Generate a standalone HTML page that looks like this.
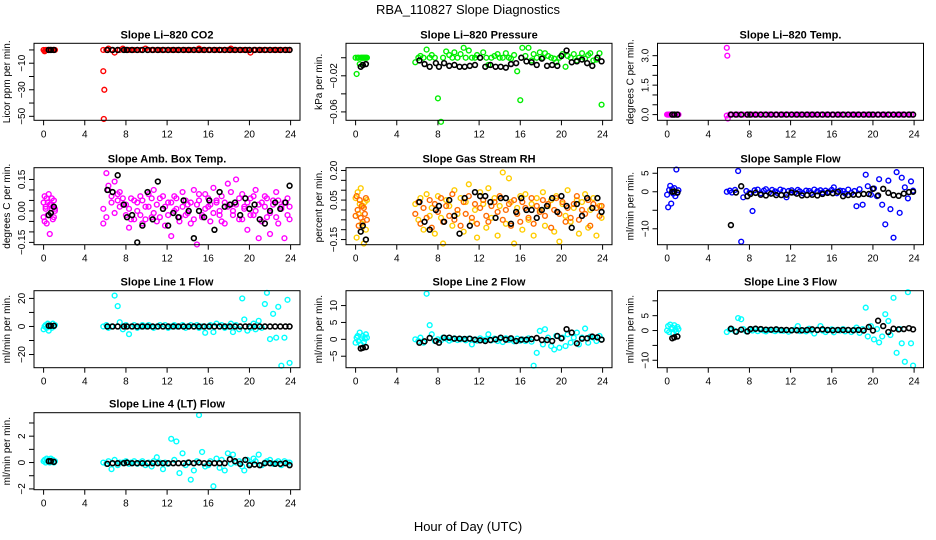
<!DOCTYPE html>
<html><head><meta charset="utf-8">
<style>
html,body{margin:0;padding:0;background:#fff;}
svg{display:block;font-family:"Liberation Sans",Arial,sans-serif;}
</style></head>
<body>
<svg id="chart" width="936" height="540" viewBox="0 0 936 540" xmlns="http://www.w3.org/2000/svg">
<rect x="0" y="0" width="936" height="540" fill="#fff"/>
<text x="468" y="14" font-size="13" text-anchor="middle">RBA_110827  Slope Diagnostics</text>
<text x="468" y="531" font-size="13" text-anchor="middle">Hour of Day (UTC)</text>
</svg>
<script>
// shared time arrays (hours)
const colorTimes = [0.0,0.1,0.2,0.3,0.4,0.5,0.6,0.7,0.8,0.9,1.0,1.1,
5.8,6.1,6.3,6.6,6.9,7.2,7.4,7.7,8.0,8.3,8.5,8.8,9.1,9.4,9.6,9.9,10.2,10.5,10.7,11.0,11.3,11.6,11.8,12.1,12.4,12.7,12.9,13.2,13.5,13.8,14.0,14.3,14.6,14.9,15.1,15.4,15.7,16.0,16.2,16.5,16.8,17.1,17.3,17.6,17.9,18.2,18.4,18.7,19.0,19.3,19.5,19.8,20.1,20.4,20.6,20.9,21.2,21.5,21.7,22.0,22.3,22.6,22.8,23.1,23.4,23.7,23.9];
const blackTimes = [0.5,0.7,1.0,6.2,6.7,7.2,7.8,8.1,8.6,9.1,9.6,10.1,10.6,11.1,11.6,12.1,12.6,13.1,13.6,14.1,14.6,15.1,15.6,16.1,16.6,17.1,17.6,18.1,18.6,19.1,19.6,20.0,20.5,21.0,21.5,22.0,22.5,23.0,23.5,23.9];
const xTicks = [0,4,8,12,16,20,24];

// Panel 1: CO2
const co2Color = [0,-1,0,0,0,0,0,0,0,0,0,0,
0,0,1,0,-2,0,0,1,0,0,0,0,0,0,0,1,0,0,0,0,0,0,0,0,0,0,0,0,0,0,0,0,0,0,1,0,0,0,0,0,0,0,0,0,0,1,0,0,0,0,0,0,-2,0,0,0,0,0,0,0,0,0,0,0,0,0,0];
const co2OutT = [5.8,5.9,5.85];
const co2OutV = [-16,-30,-52];
const co2Black = [0,0,0,0,0,0,0,0,0,0,0,0,0,0,0,0,0,0,0,0,0,0,0,0,0,0,0,0,0,0,0,0,0,0,0,0,0,0,0,0];
const co2Ticks = [0,-10,-20,-30,-40,-50];
const co2Labels = ["","-10","","-30","","-50"];

// Panel 2: Pressure
const presColor = [0,-0.018,0,0,-0.007,0,0,0,0,0,0,0,
-0.005,0,0.002,0,0.009,0,0.003,0,-0.045,-0.071,0,0.007,0.003,0,0.006,0,0.004,0.011,0,0.008,0,0,0.003,0,0.006,0,-0.008,0,0.002,0.004,0,0,0.005,0,-0.001,0.003,-0.015,-0.047,0.011,0.002,0.011,-0.003,0.004,0,0.006,0,0.005,0.002,0,-0.001,-0.005,0,0.004,-0.01,0.002,0,0.004,-0.003,0,0.005,-0.001,0.003,0.005,-0.003,-0.002,0.005,-0.052];
const presBlack = [-0.01,-0.008,-0.007,-0.003,-0.007,-0.01,-0.006,-0.01,-0.006,-0.009,-0.008,-0.01,-0.01,-0.009,-0.008,0,-0.01,-0.008,-0.01,-0.01,-0.011,-0.007,-0.006,0,-0.004,-0.005,-0.008,-0.001,-0.009,-0.008,-0.009,0.002,0.008,-0.005,-0.004,-0.002,-0.006,-0.009,0,-0.004];
const presTicks = [0,-0.02,-0.04,-0.06];
const presLabels = ["","-0.02","","-0.06"];

// Panel 3: Li-820 Temp
const tempColor = [0,0,0,0,0,0,0,0,0,0,0,0,
-0.05,0,0,0,0,0,0,0,0,0,0,0,0,0,0,0,0,0,0,0,0,0,0,0,0,0,0,0,0,0,0,0,0,0,0,0,0,0,0,0,0,0,0,0,0,0,0,0,0,0,0,0,0,0,0,0,0,0,0,0,0,0,0,0,0,0,0];
const tempOutT = [5.8,5.85,5.9];
const tempOutV = [3.4,3.0,-0.2];
const tempBlack = [0,0,0,0,0,0,0,0,0,0,0,0,0,0,0,0,0,0,0,0,0,0,0,0,0,0,0,0,0,0,0,0,0,0,0,0,0,0,0,0];
const tempTicks = [0,0.5,1,1.5,2,2.5,3];
const tempLabels = ["0.0","","","1.5","","","3.0"];

// Panel 4: Amb Box Temp
const ambColorA = [0.04,-0.05,0.02,0.06,-0.02,0.08,-0.11,0.03,0.01,-0.04,0.05,0.00,
-0.06,0.18,0.10,0.07,0.14,0.05,0.09,0.03,-0.02,-0.08,0.06,-0.04,0.04,0.07,-0.06,0.02,0.08,-0.03,0.10,-0.05,0.06,0.01,-0.07,0.04,-0.12,0.07,0.01,-0.05,0.09,-0.02,0.03,-0.06,0.10,-0.16,0.05,-0.03,0.08,0.02,-0.05,0.11,0.04,-0.02,0.07,-0.06,0.13,0.03,0.00,0.15,-0.04,0.08,0.02,-0.09,0.06,-0.02,0.10,-0.13,0.04,0.07,-0.03,-0.11,0.05,0.09,-0.06,0.02,-0.13,0.06,-0.04];
const ambColorB = [-0.03,0.07,0.01,-0.06,0.04,-0.02,0.03,-0.01,0.06,0.02,-0.03,0.01,
0.01,-0.03,0.12,0.04,-0.01,0.08,0.02,0.06,0.03,0.01,-0.04,0.05,0.00,-0.02,0.05,-0.04,0.02,0.06,-0.01,0.03,-0.03,0.07,0.02,-0.02,0.04,0.00,0.06,-0.03,0.02,0.05,-0.01,0.04,-0.04,0.03,0.08,-0.02,0.01,0.06,0.03,-0.01,0.05,0.00,-0.05,0.04,0.02,0.09,-0.02,0.03,0.06,-0.04,0.01,0.04,-0.02,0.07,0.00,0.03,-0.05,0.02,0.06,-0.01,0.03,-0.03,0.05,0.01,0.04,-0.02,0.02];
const ambBlack = [-0.02,-0.01,0.02,0.10,0.09,0.17,0.03,-0.03,-0.02,-0.15,-0.07,0.09,-0.04,0.14,0.01,-0.07,-0.01,-0.03,0.05,0.00,-0.13,0.00,-0.03,0.05,-0.09,0.09,0.02,0.03,0.04,-0.02,0.06,0.01,0.03,-0.04,-0.06,0.00,0.04,0.01,0.04,0.12];
const ambTicks = [0.15,0.10,0.05,0,-0.05,-0.10,-0.15];
const ambLabels = ["0.15","","","0.00","","","-0.15"];

// Panel 5: Gas Stream RH
const rhColorA = [0.06,-0.14,0.09,-0.02,0.03,0.11,-0.07,0.02,-0.17,0.04,-0.10,0.05,
0.03,-0.05,0.06,-0.10,0.08,-0.03,0.01,-0.12,0.07,-0.04,-0.17,0.05,0.02,-0.08,0.10,-0.02,0.06,-0.11,0.04,0.13,-0.06,0.00,-0.14,0.09,0.03,-0.09,0.11,-0.04,0.06,-0.13,0.02,0.19,-0.07,0.16,0.04,-0.17,0.01,0.07,-0.10,0.08,-0.05,0.03,-0.13,0.06,0.00,0.09,-0.08,0.02,0.05,-0.11,0.07,-0.16,0.03,-0.03,0.10,-0.06,0.01,0.05,-0.12,0.04,0.08,-0.09,0.00,0.06,-0.13,0.02,-0.04];
const rhColorB = [-0.03,0.07,0.00,-0.08,0.05,-0.04,0.02,-0.06,0.01,-0.02,0.06,-0.05,
-0.02,0.04,-0.07,0.01,-0.04,0.05,-0.09,0.03,-0.01,0.06,-0.06,0.02,-0.03,0.08,-0.05,0.00,-0.08,0.04,-0.02,0.07,-0.04,0.03,-0.07,0.01,0.05,-0.03,-0.06,0.02,0.04,-0.01,0.07,-0.05,0.00,0.03,-0.08,0.05,-0.02,-0.06,0.04,0.01,-0.04,0.06,-0.07,0.02,-0.01,0.05,-0.03,0.03,-0.09,0.00,0.06,-0.02,0.04,-0.06,0.01,-0.04,0.03,0.07,-0.05,0.00,-0.02,0.05,-0.08,0.03,0.01,-0.03,0.02];
const rhBlack = [-0.11,-0.08,-0.15,0.04,-0.06,-0.10,0.00,0.02,-0.06,0.05,-0.03,-0.12,0.06,-0.08,0.09,0.07,0.07,0.04,-0.04,0.06,0.06,-0.07,-0.01,0.06,0.00,0.00,-0.04,0.00,0.02,0.06,-0.01,0.07,0.02,-0.09,0.03,-0.03,0.06,0.01,0.06,-0.01];
const rhTicks = [0.20,0.15,0.10,0.05,0,-0.05,-0.10,-0.15];
const rhLabels = ["0.20","","","0.05","","","","-0.15"];

// Panel 6: Sample Flow
const sfColor = [-0.8,-4.2,0.5,1.6,-3.2,0.7,-0.5,1.0,-1.2,6.0,-0.3,0.4,
0,0.3,-0.2,0.5,5.6,-13.5,-1.5,0.2,-0.3,-5.2,0.4,0.6,-0.4,0.3,0.7,-0.2,0.5,0.1,-0.3,0.6,0.3,-1.5,0.2,0.4,-0.2,0.5,0.1,-0.4,0.3,0.2,-0.3,0.6,0.1,0.4,-0.2,0.3,0.0,0.5,1.2,-0.4,0.3,0.2,-0.5,0.6,-0.3,0.2,-3.9,0.7,-3.5,4.6,1.5,-0.8,0.9,-1.2,3.4,-3.5,-8.8,3.0,-4.7,-12.4,5.3,-5.7,3.8,1.2,-1.8,2.8,0.3];
const sfBlack = [0,0.1,-0.2,-9,-0.2,1.5,-1.2,-0.6,-0.3,-0.8,-1.0,-0.5,-0.9,-0.9,-0.8,-0.2,-0.5,-1.0,-0.9,-0.8,-1.0,-0.6,-0.3,-0.4,0,-1.2,-0.9,-0.8,-0.8,-0.6,-0.6,0.8,-1.0,0.8,-0.3,-0.9,-1.1,-0.5,-0.1,0];
const sfTicks = [5,0,-5,-10];
const sfLabels = ["5","0","","-10"];

// Panel 7: Line 1 Flow
const l1Color = [-2,0,1,-1,2,-3,1,0,-1,2,0,1,
0,1,-1,0,22,14.5,3,-2,1,-5.5,0,1,-1,0,1,0,1,0,-1,0,1,0,1,-1,0,1,0,0,1,-1,0,1,0,1,-1,0,-4.5,0,1,-4,2,0,1,-1,0,2,-4,1,-2,20,5,-3,-1,2,-2,4,-1,16,24,-9,9,-8,14,-28,-8,19,-26];
const l1Black = [0.5,0.5,0.5,0,0,0,0,0,0,0,0,0,0,0,0,0,0,0,0,0,0,0,0,0,0,0,0,0,0,0,0,0,0,0,0,0,0,0,0,0];
const l1Ticks = [20,10,0,-10,-20];
const l1Labels = ["20","","0","","-20"];

// Panel 8: Line 2 Flow
const l2Color = [-1,0.5,1,-0.5,2,-1.5,0.3,1,-0.8,0.2,1.5,0.5,
0,-0.5,0.5,-1,13.5,4.2,1.5,-0.5,0,-0.3,0.5,0.2,-0.4,0,0.3,-0.2,0,0.1,-0.3,0.2,-1.5,0,-0.4,0.3,-0.2,0,1.5,-0.3,0.2,-0.5,0.1,-0.8,0.3,-0.2,0,-0.6,0.2,-0.4,0,-0.5,0.3,-0.7,-7.8,-4,2.5,-1.5,3,0.5,-2,-3,1,-2.5,0.5,-2,1.5,-1,0.5,2,-1.5,0.5,3.2,-1,0.8,0.5,-0.5,1,0];
const l2Black = [-2.7,-2.5,-2.3,-1,-0.6,0.4,-0.5,-1,0.5,0.5,0.2,0.2,0.1,0.2,-0.1,-0.3,-0.5,-0.2,0,0.5,-0.1,0.3,-0.5,-0.1,-0.1,0.1,0.4,-0.2,-0.2,-0.5,1,0.3,3,2,-1.2,0.2,0.3,0.8,0.6,-0.1];
const l2Ticks = [10,5,0,-5];
const l2Labels = ["10","5","0","-5"];

// Panel 9: Line 3 Flow
const l3Color = [0,1.5,-0.5,2,0.5,1,-1,1.8,0.3,-0.5,1.2,0.5,
-0.5,0.3,0.5,-0.2,4.2,3.8,0.5,-0.3,0.2,0,0.5,-0.2,0.3,0,-0.3,0.2,0.1,-0.2,0.3,0,-0.1,0.2,-0.4,0,0.3,1.5,-0.2,0.1,-0.3,0.6,0,-1,0.3,1.5,0,-0.5,0.2,0.4,-0.6,0.2,0,0.5,-0.3,0.2,-0.5,0.3,1,-0.8,0.5,7.7,-2,1.5,-3,0.5,-4,-2,5.5,3.2,-1.5,11,-7.5,0.5,-4.3,-10.5,12.9,-4.3,-11.8];
const l3Black = [-2.6,-2.3,-2.0,0.6,-0.4,0.3,-0.3,0.5,0.6,0.5,0.3,0.3,0.4,0.2,0.2,0.1,0.1,0.1,0.2,0.4,0.2,0.4,0.2,0.1,0.2,0.2,0.2,0.1,0.2,0,1.2,0,3.3,1.5,-0.5,0.6,0.4,0.5,0.8,0.4];
const l3Ticks = [10,5,0,-5,-10];
const l3Labels = ["","5","0","","-10"];

// Panel 10: Line 4 (LT) Flow
const l4Color = [0.1,0.2,0,0.3,0.1,0.2,0,0.3,0.1,0.2,0,0.1,
0,-0.1,0.1,-0.5,0.2,-0.2,0,0,0.1,-0.1,0,0.1,-0.1,0,0.1,-0.2,0,-0.3,0.1,0.4,0,-0.5,0,-0.1,1.8,0.2,1.6,-0.8,0.7,-0.2,0,-1.3,-0.6,0.1,3.6,0.8,-0.3,-0.2,0.1,-1.8,0.3,-0.4,0.2,-0.6,0.7,-0.1,0.6,0,0.1,-0.3,-0.6,0.2,-0.1,0.3,0.1,0.6,-0.2,0,0.1,0.2,-0.1,0,0.1,-0.2,0.1,0,0];
const l4Black = [0.1,0.1,0.05,-0.1,-0.05,-0.05,-0.05,0,-0.05,-0.05,-0.05,-0.05,-0.05,-0.05,-0.05,-0.05,-0.05,-0.05,-0.05,0,-0.05,0,-0.05,-0.05,-0.05,-0.05,-0.05,0.25,0.1,-0.1,0.2,-0.2,-0.15,-0.2,-0.05,-0.05,-0.1,-0.1,-0.05,-0.2];
const l4Ticks = [3,2,1,0,-1,-2];
const l4Labels = ["","2","","0","","-2"];

const NS = "http://www.w3.org/2000/svg";
const svg = document.getElementById("chart");
function mk(tag, attrs, parent) {
  const e = document.createElementNS(NS, tag);
  for (const k in attrs) e.setAttribute(k, attrs[k]);
  (parent || svg).appendChild(e);
  return e;
}

const panels = [
 {key:"co2", title:"Slope Li\u2013820 CO2", ylab:"Licor ppm per min.", col:0,row:0, ymin:-53, ymax:5, color:"#ff0000", series:[[colorTimes,co2Color],[co2OutT,co2OutV]], black:co2Black, ticks:co2Ticks, labels:co2Labels},
 {key:"pressure", title:"Slope Li\u2013820 Pressure", ylab:"kPa per min.", col:1,row:0, ymin:-0.0693, ymax:0.016, color:"#00ee00", series:[[colorTimes,presColor]], black:presBlack, ticks:presTicks, labels:presLabels},
 {key:"li820-temp", title:"Slope Li\u2013820 Temp.", ylab:"degrees C per min.", col:2,row:0, ymin:-0.29, ymax:3.63, color:"#ff00ff", series:[[colorTimes,tempColor],[tempOutT,tempOutV]], black:tempBlack, ticks:tempTicks, labels:tempLabels},
 {key:"amb-box-temp", title:"Slope Amb. Box Temp.", ylab:"degrees C per min.", col:0,row:1, ymin:-0.161, ymax:0.206, color:"#ff00ff", series:[[colorTimes,ambColorA],[colorTimes,ambColorB]], black:ambBlack, ticks:ambTicks, labels:ambLabels},
 {key:"gas-stream-rh", title:"Slope Gas Stream RH", ylab:"percent per min.", col:1,row:1, ymin:-0.176, ymax:0.214, color:"#ffcc00", color2:"#ff6a00", series:[[colorTimes,rhColorA],[colorTimes,rhColorB]], black:rhBlack, ticks:rhTicks, labels:rhLabels},
 {key:"sample-flow", title:"Slope Sample Flow", ylab:"ml/min per min.", col:2,row:1, ymin:-14.3, ymax:6.5, color:"#0000ff", series:[[colorTimes,sfColor]], black:sfBlack, ticks:sfTicks, labels:sfLabels},
 {key:"line1-flow", title:"Slope Line 1 Flow", ylab:"ml/min per min.", col:0,row:2, ymin:-29.4, ymax:25.5, color:"#00ffff", series:[[colorTimes,l1Color]], black:l1Black, ticks:l1Ticks, labels:l1Labels},
 {key:"line2-flow", title:"Slope Line 2 Flow", ylab:"ml/min per min.", col:1,row:2, ymin:-8.4, ymax:14.4, color:"#00ffff", series:[[colorTimes,l2Color]], black:l2Black, ticks:l2Ticks, labels:l2Labels},
 {key:"line3-flow", title:"Slope Line 3 Flow", ylab:"ml/min per min.", col:2,row:2, ymin:-12.5, ymax:13.4, color:"#00ffff", series:[[colorTimes,l3Color]], black:l3Black, ticks:l3Ticks, labels:l3Labels},
 {key:"line4-flow", title:"Slope Line 4 (LT) Flow", ylab:"ml/min per min.", col:0,row:3, ymin:-2.06, ymax:3.78, color:"#00ffff", series:[[colorTimes,l4Color]], black:l4Black, ticks:l4Ticks, labels:l4Labels}
];

const colLeft = [34, 346, 657.5];
const rowTop = [43.3, 167.7, 290.7, 412.7];
const W = 266, H = 77;

panels.forEach(p => {
  const L = colLeft[p.col], T = rowTop[p.row], B = T + H, R = L + W;
  const g = mk("g", {});
  
  
  const xs = h => L + 9.6 + h * (247 / 24);
  const ys = v => B - (v - p.ymin) / (p.ymax - p.ymin) * H;

  const t = mk("text", {x: L + W/2, y: T - 5, "font-size": 11, "font-weight": "bold", "text-anchor": "middle"}, g);
  t.textContent = p.title;
  
  

  const yl = mk("text", {x: 0, y: 0, "font-size": 10, "text-anchor": "middle", transform: `translate(${L-24},${T+H/2}) rotate(-90)`}, g);
  yl.textContent = p.ylab;
  
  

  // points (colored then black)
  const pts = mk("g", {"fill": "none"}, g);
  
  
  p.series.forEach((s, si) => {
    const times = s[0], vals = s[1];
    const n = Math.min(times.length, vals.length);
    const col = (si === 1 && p.color2) ? p.color2 : p.color;
    for (let i = 0; i < n; i++) {
      const c = mk("circle", {cx: xs(times[i]), cy: ys(vals[i]), r: 2.4, stroke: col, "stroke-width": 1.4, fill: "none"}, pts);
      
      
    }
  });
  const nb = Math.min(blackTimes.length, p.black.length);
  for (let i = 0; i < nb; i++) {
    const c = mk("circle", {cx: xs(blackTimes[i]), cy: ys(p.black[i]), r: 2.4, stroke: "#000", "stroke-width": 1.6, fill: "none"}, pts);
    
    
  }

  // box
  const box = mk("rect", {x: L, y: T, width: W, height: H, fill: "none", stroke: "#000", "stroke-width": 1}, g);
  
  

  // x axis
  const xa = mk("g", {}, g);
  
  
  xTicks.forEach(h => {
    mk("line", {x1: xs(h), x2: xs(h), y1: B, y2: B + 5, stroke: "#000", "stroke-width": 1}, xa);
    const tl = mk("text", {x: xs(h), y: B + 17, "font-size": 10, "text-anchor": "middle"}, xa);
    tl.textContent = h;
    
    
  });

  // y axis
  const ya = mk("g", {}, g);
  
  
  p.ticks.forEach((v, i) => {
    const y = ys(v);
    mk("line", {x1: L - 5, x2: L, y1: y, y2: y, stroke: "#000", "stroke-width": 1}, ya);
    if (p.labels[i]) {
      const tl = mk("text", {x: 0, y: 0, "font-size": 10, "text-anchor": "middle", transform: `translate(${L-9},${y}) rotate(-90)`}, ya);
      tl.textContent = p.labels[i].replace("-", "\u2212");
      
      
    }
  });
});
</script>
</body></html>
